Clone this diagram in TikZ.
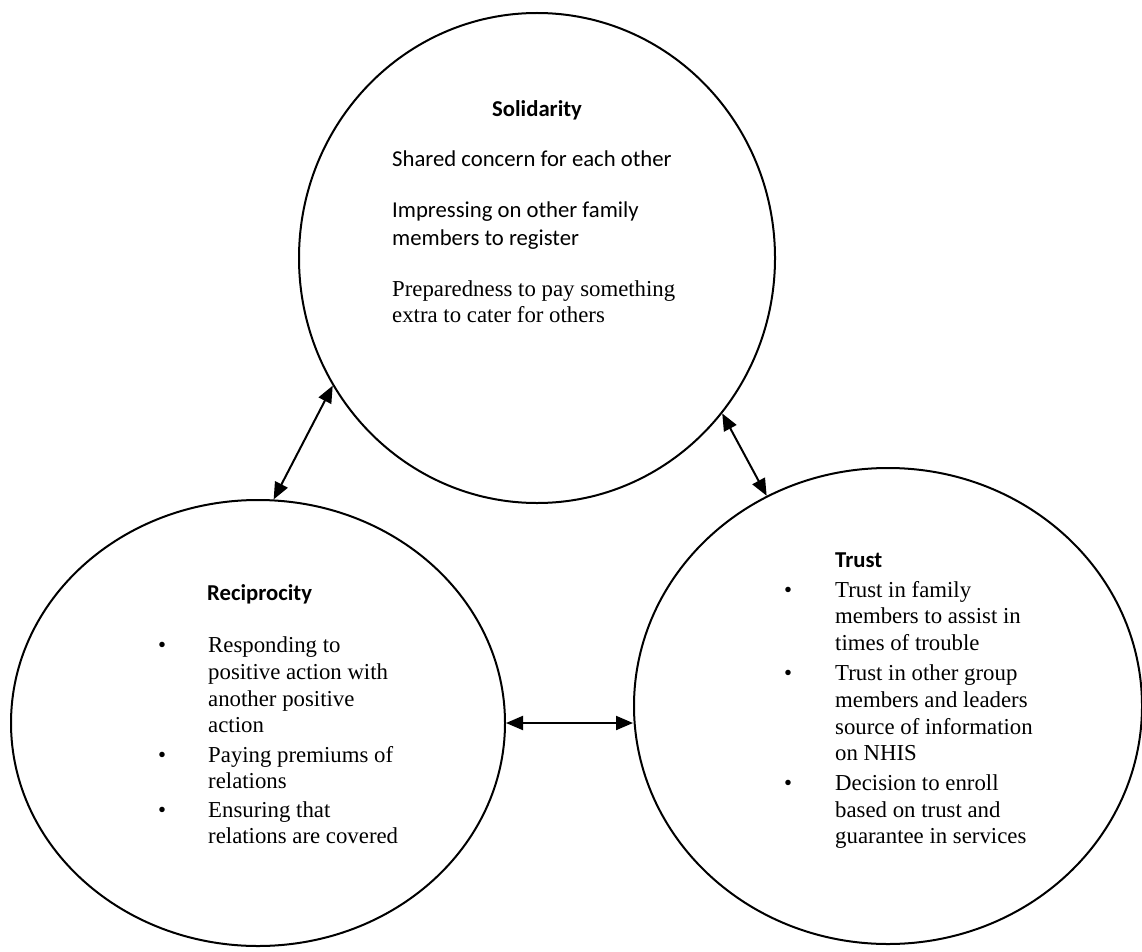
\documentclass[tikz,border=0pt]{standalone}
\usepackage{fontspec}
\setmainfont{Liberation Serif}
\newfontfamily\calfont{Carlito}
\usetikzlibrary{shapes.geometric,arrows.meta}
\begin{document}
\begin{tikzpicture}[x=1pt,y=-1pt,
  ring/.style={draw, ellipse, line width=2pt, inner sep=0pt},
  conn/.style={line width=2pt, {Triangle[length=17pt,width=14pt]}-{Triangle[length=17pt,width=14pt]}},
  tm/.style={anchor=base west, inner sep=0pt, font=\fontsize{22.8}{26.7}\selectfont},
  cb/.style={anchor=base west, inner sep=0pt, font=\calfont\fontsize{22.7}{28}\selectfont},
  hd/.style={anchor=base west, inner sep=0pt, font=\calfont\bfseries\fontsize{22.7}{28}\selectfont},
  bul/.style={anchor=base, inner sep=0pt, font=\fontsize{22.8}{26.7}\selectfont}]
\useasboundingbox (0,0) rectangle (1142,952);
% circles
\node[ring, minimum width=476pt, minimum height=490pt] (sol) at (537,258) {};
\node[ring, minimum width=494pt, minimum height=446pt] (rec) at (258,723) {};
\node[ring, minimum width=508pt, minimum height=476pt] (tru) at (888,706) {};
% connectors
\draw[conn] (rec.86.1) -- (sol.212.4);
\draw[conn] (sol.320.5) -- (tru.120.2);
\draw[conn] (rec.east) -- (rec.east -| tru.west);
% Solidarity
\node[hd] (solh) at (492,117) {Solidarity};
\node[cb] (s1) at (392,167) {Shared concern for each other};
\node[cb] (s2) at (392,217) {Impressing on other family};
\node[cb] (s3) at (392,245) {members to register};
\node[tm] (s4) at (392,296) {Preparedness to pay something};
\node[tm] (s5) at (392,322) {extra to cater for others};
% Reciprocity
\node[hd] (rech) at (207,600) {Reciprocity};
\foreach \y/\t [count=\i] in {652/Responding to, 679/positive action with, 706/another positive, 732/action, 762/Paying premiums of, 788/relations, 817/Ensuring that, 843/relations are covered}
  \node[tm] (r\i) at (208,\y) {\t};
\foreach \y [count=\i] in {652,762,817}
  \node[bul] (rb\i) at (162,\y) {•};
% Trust
\node[hd] (truh) at (835,567) {Trust};
\foreach \y/\t [count=\i] in {597/Trust in family, 623/members to assist in, 650/times of trouble, 680/Trust in other group, 707/members and leaders, 734/source of information, 760/on NHIS, 790/Decision to enroll, 817/based on trust and, 843/guarantee in services}
  \node[tm] (t\i) at (835,\y) {\t};
\foreach \y [count=\i] in {597,680,790}
  \node[bul] (tb\i) at (788,\y) {•};
\end{tikzpicture}
\end{document}
